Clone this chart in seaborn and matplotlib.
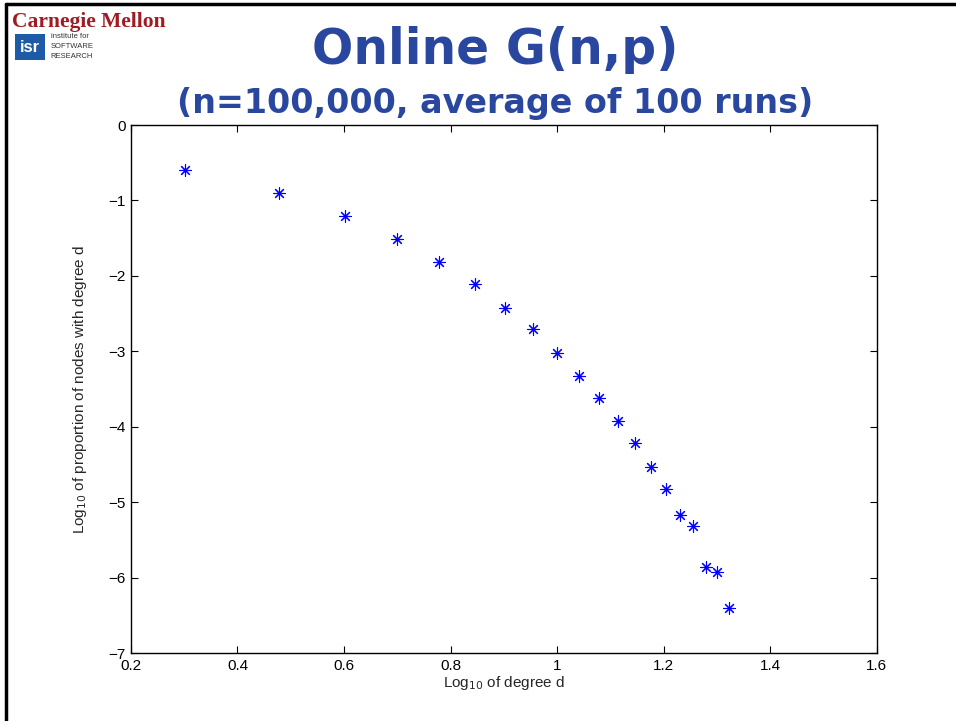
import matplotlib
matplotlib.use("Agg")
import matplotlib.pyplot as plt
import matplotlib.patches as mpatches
import seaborn as sns
import pandas as pd

# log10 of degree d
log_degree = [0.301, 0.477, 0.602, 0.699, 0.778, 0.845, 0.903, 0.954, 1.000, 1.041,
              1.079, 1.114, 1.146, 1.176, 1.204, 1.230, 1.255, 1.279, 1.301, 1.322]
# log10 of proportion of nodes with degree d
log_proportion = [-0.60, -0.90, -1.20, -1.51, -1.81, -2.11, -2.42, -2.71, -3.02, -3.33,
                  -3.62, -3.92, -4.21, -4.54, -4.83, -5.17, -5.32, -5.86, -5.93, -6.40]

x_ticks = [0.2, 0.4, 0.6, 0.8, 1.0, 1.2, 1.4, 1.6]
x_tick_labels = ['0.2', '0.4', '0.6', '0.8', '1', '1.2', '1.4', '1.6']
y_ticks = [0, -1, -2, -3, -4, -5, -6, -7]
y_tick_labels = ['0', '\u22121', '\u22122', '\u22123', '\u22124', '\u22125', '\u22126', '\u22127']

TITLE_BLUE = '#2a47a0'

sns.set_style('ticks')
plt.rcParams['font.family'] = ['Liberation Sans', 'DejaVu Sans']

fig = plt.figure(figsize=(9.56, 7.21), dpi=100)
ax = fig.add_axes([0.137, 0.0943, 0.780, 0.7323])

df = pd.DataFrame({'x': log_degree, 'y': log_proportion})
sns.scatterplot(data=df, x='x', y='y', ax=ax, marker=(8, 2, 0), s=70,
                color='blue', linewidth=0.8, legend=False)

ax.set_xlim(0.2, 1.6)
ax.set_ylim(-7, 0)
ax.set_xticks(x_ticks)
ax.set_xticklabels(x_tick_labels)
ax.set_yticks(y_ticks)
ax.set_yticklabels(y_tick_labels)
ax.tick_params(direction='in', length=5, width=0.8, top=True, right=True,
               labelsize=11, colors='black', pad=4)
for side in ['left', 'right', 'top', 'bottom']:
    ax.spines[side].set_visible(True)
    ax.spines[side].set_linewidth(1.0)
    ax.spines[side].set_color('black')

ax.set_xlabel('Log$_{10}$ of degree d', fontsize=11, labelpad=1)
ax.set_ylabel('Log$_{10}$ of proportion of nodes with degree d', fontsize=11, labelpad=14)

# slide titles
fig.text(0.518, 0.930, 'Online G(n,p)', ha='center', va='center', fontsize=35,
         fontweight='bold', color=TITLE_BLUE, family=['DejaVu Sans'])
fig.text(0.518, 0.856, '(n=100,000, average of 100 runs)', ha='center', va='center',
         fontsize=24, fontweight='bold', color=TITLE_BLUE, family=['DejaVu Sans'])

# logo block
fig.text(0.013, 0.970, 'Carnegie Mellon', ha='left', va='center', fontsize=15.5,
         fontweight='bold', color='#a01c22', family=['Liberation Serif'])
fig.patches.append(mpatches.Rectangle((0.016, 0.917), 0.031, 0.036,
                                      transform=fig.transFigure,
                                      facecolor='#1f5aa6', edgecolor='none'))
fig.text(0.0315, 0.934, 'isr', ha='center', va='center', fontsize=12,
         color='white', fontweight='bold')
fig.text(0.053, 0.949, 'institute for', ha='left', va='center', fontsize=5.5, color='#333333')
fig.text(0.053, 0.935, 'SOFTWARE', ha='left', va='center', fontsize=5.5, color='#333333')
fig.text(0.053, 0.921, 'RESEARCH', ha='left', va='center', fontsize=5.5, color='#333333')

# slide frame (left and top edges)
fig.lines.append(plt.Line2D([0.006, 0.006], [0.0, 0.994], transform=fig.transFigure,
                            color='black', linewidth=2.5))
fig.lines.append(plt.Line2D([0.006, 1.0], [0.994, 0.994], transform=fig.transFigure,
                            color='black', linewidth=2.5))

fig.savefig('out.png', dpi=100)
